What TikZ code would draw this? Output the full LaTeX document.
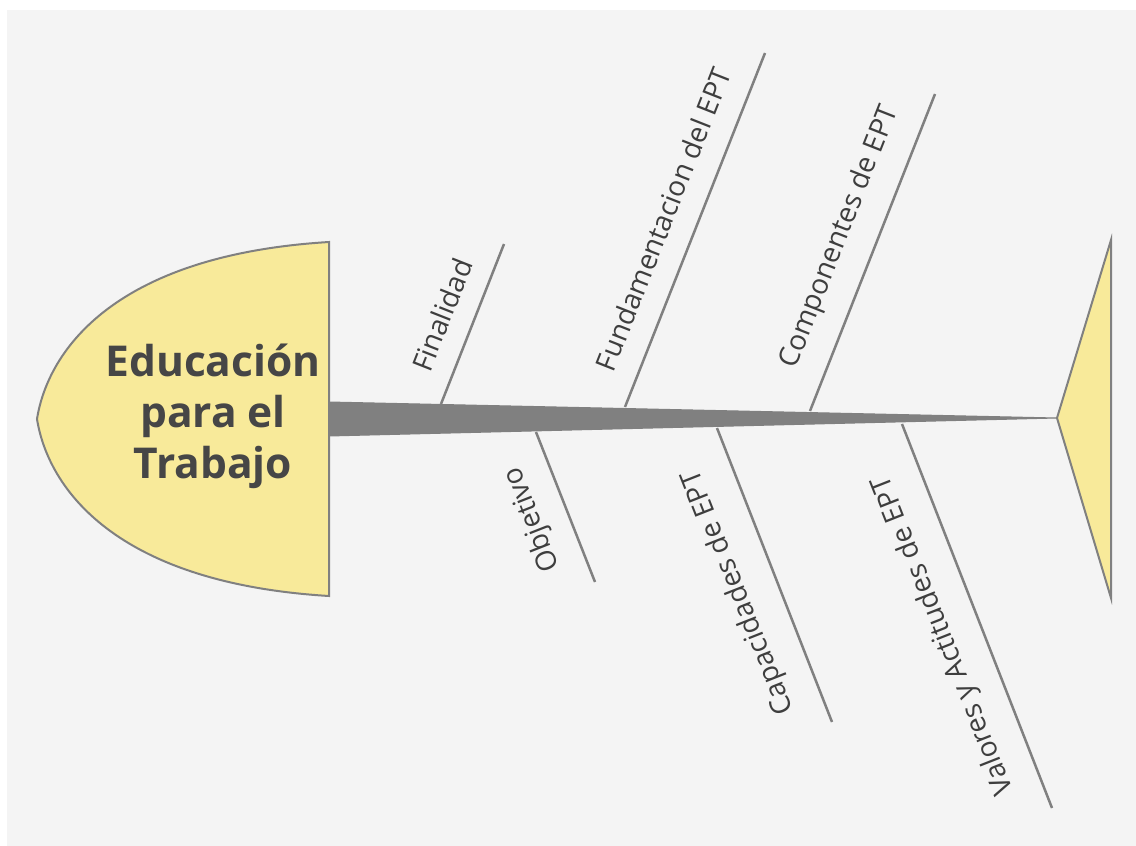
\documentclass[tikz,border=0pt]{standalone}
\usepackage{fontspec}
\setmainfont{Open Sans}
\definecolor{fishfill}{HTML}{F8EA9A}
\definecolor{fishline}{HTML}{808080}
\definecolor{bgcol}{HTML}{F4F4F4}
\definecolor{titlecol}{HTML}{464646}
\definecolor{labelcol}{HTML}{3E3E3E}
\begin{document}
\begin{tikzpicture}[x=1pt,y=-1pt,
  bone/.style={draw=fishline,line width=2.5pt},
  lbl/.style={font=\fontsize{28}{32}\selectfont, text=labelcol, inner sep=0pt},
  titlebox/.style={font=\fontsize{42.5}{51}\selectfont\bfseries, text=titlecol, align=center, inner sep=0pt},
  shapeline/.style={draw=fishline, fill=fishfill, line width=2pt}]
\useasboundingbox (0,0) rectangle (1136,846);
\fill[white] (0,0) rectangle (1136,846);
\fill[bgcol] (7,10) rectangle (1136,846);
% head
\filldraw[shapeline] (329,242) -- (329,596) .. controls (115,583) and (48,488) .. (37,419)
  .. controls (48,350) and (115,255) .. (329,242) -- cycle;
\node[titlebox] (head) at (213,416) {Educación\\para el\\Trabajo};
% tail
\filldraw[shapeline, miter limit=10] (1057,418) -- (1111,240) -- (1111,598) -- cycle;
\coordinate (tailtip) at (1057,418);
% spine
\coordinate (spineT) at (329,402);
\coordinate (spineB) at (329,436);
\filldraw[fill=fishline, draw=fishline, line width=1pt, line join=round] (spineT) -- (tailtip) -- (spineB) -- cycle;
% bone coordinates
\coordinate (b1) at (441,404);  \coordinate (e1) at (504,244);
\coordinate (b2) at (625,407);  \coordinate (e2) at (765,53);
\coordinate (b3) at (810,411);  \coordinate (e3) at (935,94);
\coordinate (b4) at (536,432);  \coordinate (e4) at (595,582);
\coordinate (b5) at (717,428);  \coordinate (e5) at (832,722);
\coordinate (b6) at (902,424);  \coordinate (e6) at (1052,808);
\draw[bone] (b1) -- (e1);
\draw[bone] (b2) -- (e2);
\draw[bone] (b3) -- (e3);
\draw[bone] (b4) -- (e4);
\draw[bone] (b5) -- (e5);
\draw[bone] (b6) -- (e6);
% labels
\node[lbl, rotate=68.5] (l1) at (442,315) {Finalidad};
\node[lbl, rotate=68.5] (l2) at (663,219) {Fundamentacion del EPT};
\node[lbl, rotate=68.5] (l3) at (840,237) {Componentes de EPT};
\node[lbl, rotate=111.5] (l4) at (533,519) {Objetivo};
\node[lbl, rotate=111.5] (l5) at (739,592) {Capacidades de EPT};
\node[lbl, rotate=111.5] (l6) at (944,635) {Valores y Actitudes de EPT};
\end{tikzpicture}
\end{document}
